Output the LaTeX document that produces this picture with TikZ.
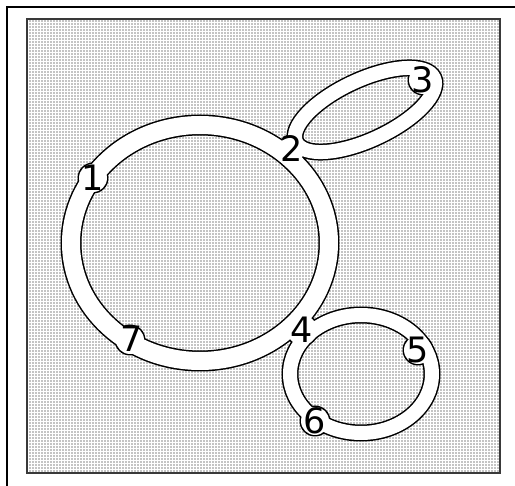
\documentclass[tikz,border=0pt]{standalone}
\usepackage{fontspec}
\setmainfont{DejaVu Sans}
\usetikzlibrary{patterns.meta}
\begin{document}
\begin{tikzpicture}[x=1pt,y=-1pt,
  lbl/.style={inner sep=0pt,font=\fontsize{35}{35}\selectfont},
  edgeline/.style={draw=black,line width=#1},
  whiteline/.style={draw=white,line width=#1}]
\useasboundingbox (0,0) rectangle (515,486);
% outer frame
\draw[line width=1.5pt] (7,486) -- (7,7) -- (515,7);
% dotted field
\path[pattern={Dots[distance=3pt,radius=0.7pt]},draw=gray!45!black,line width=2pt] (27,19) rectangle (500,473);
% outlines
\draw[edgeline=21pt] (200,243) ellipse [x radius=129pt,y radius=118pt];
\draw[edgeline=17pt,rotate around={25:(365,110)}] (365,110) ellipse [x radius=76pt,y radius=30pt];
\draw[edgeline=17pt] (361,374) ellipse [x radius=71pt,y radius=59pt];
\foreach \p/\r in {{(93,178)}/15.5,{(292,149)}/14.5,{(423,80)}/15.5,{(302,330)}/16.5,{(418,350)}/15.5,{(315,421)}/15.5,{(130,340)}/15.5}
  \fill[black] \p circle[radius=\r pt];
% white bands
\draw[whiteline=18pt] (200,243) ellipse [x radius=129pt,y radius=118pt];
\draw[whiteline=14pt,rotate around={25:(365,110)}] (365,110) ellipse [x radius=76pt,y radius=30pt];
\draw[whiteline=14pt] (361,374) ellipse [x radius=71pt,y radius=59pt];
\foreach \p/\r in {{(93,178)}/14,{(292,149)}/13,{(423,80)}/14,{(302,330)}/15,{(418,350)}/14,{(315,421)}/14,{(130,340)}/14}
  \fill[white] \p circle[radius=\r pt];
% labels
\node[lbl] (n1) at (93,178) {1};
\node[lbl] (n2) at (292,149) {2};
\node[lbl] (n3) at (423,80) {3};
\node[lbl] (n4) at (302,330) {4};
\node[lbl] (n5) at (418,350) {5};
\node[lbl] (n6) at (315,421) {6};
\node[lbl] (n7) at (132,339) {7};
\end{tikzpicture}
\end{document}
